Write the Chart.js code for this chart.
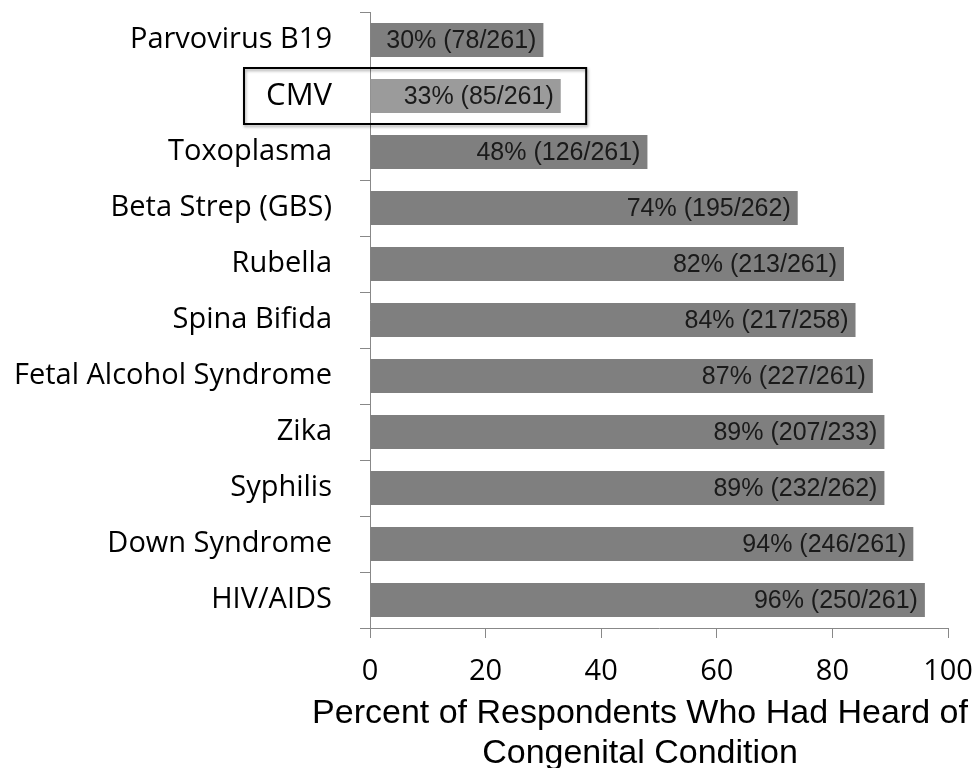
<!DOCTYPE html>
<html>
<head>
<meta charset="utf-8">
<script src="https://cdn.jsdelivr.net/npm/chart.js@4/dist/chart.umd.min.js"></script>
<style>
  html, body { margin: 0; padding: 0; background: #fff; }
  canvas { display: block; }
</style>
</head>
<body>
<canvas id="awarenessChart" width="975" height="768"></canvas>
<script>
/* =========================
   DATA
========================= */
const conditions = [
  "Parvovirus B19", "CMV", "Toxoplasma", "Beta Strep (GBS)", "Rubella",
  "Spina Bifida", "Fetal Alcohol Syndrome", "Zika", "Syphilis",
  "Down Syndrome", "HIV/AIDS"
];
const percentHeard = [30, 33, 48, 74, 82, 84, 87, 89, 89, 94, 96];
const heardCount = [78, 85, 126, 195, 213, 217, 227, 207, 232, 246, 250];
const respondents = [261, 261, 261, 262, 261, 258, 261, 233, 262, 261, 261];
const xTicks = [0, 20, 40, 60, 80, 100];
const axisTitle = ["Percent of Respondents Who Had Heard of", "Congenital Condition"];
const highlighted = "CMV";

const valueLabels = percentHeard.map((p, i) =>
  p + "% (" + heardCount[i] + "/" + respondents[i] + ")");

/* =========================
   STYLE
========================= */
const BAR = "#7f7f7f";
const BAR_HI = "#9b9b9b";
const AXIS = "#888888";
const LABEL_FONT = "'Open Sans', sans-serif";
const ARIAL = "'Liberation Sans', Arial, sans-serif";

/* =========================
   PLUGINS
========================= */
// value text inside the end of each bar
const barText = {
  id: "barText",
  afterDatasetsDraw(chart) {
    const ctx = chart.ctx;
    const meta = chart.getDatasetMeta(0);
    ctx.save();
    ctx.font = "25px " + ARIAL;
    ctx.fillStyle = "#1a1a1a";
    ctx.textAlign = "right";
    ctx.textBaseline = "middle";
    meta.data.forEach((bar, i) => {
      ctx.fillText(valueLabels[i], bar.x - 7, bar.y + 1);
    });
    ctx.restore();
  }
};

// box round the highlighted row
const highlightBox = {
  id: "highlightBox",
  afterDraw(chart) {
    const i = conditions.indexOf(highlighted);
    if (i < 0) return;
    const y = chart.scales.y;
    const x = chart.scales.x;
    const half = (y.getPixelForValue(1) - y.getPixelForValue(0)) / 2;
    const cy = y.getPixelForValue(i);
    const left = y.left + 244;
    const right = x.getPixelForValue(percentHeard[i] + 4.4);
    const ctx = chart.ctx;
    ctx.save();
    ctx.shadowColor = "rgba(0,0,0,0.35)";
    ctx.shadowBlur = 3;
    ctx.shadowOffsetX = 1;
    ctx.shadowOffsetY = 2;
    ctx.strokeStyle = "#000";
    ctx.lineWidth = 2;
    ctx.strokeRect(left, cy - half, right - left, half * 2);
    ctx.restore();
  }
};

// two line x axis title
const xTitle = {
  id: "xTitle",
  afterDraw(chart) {
    const ctx = chart.ctx;
    const area = chart.chartArea;
    const cx = (area.left + area.right) / 2 - 19;
    ctx.save();
    ctx.font = "34px " + ARIAL;
    ctx.fillStyle = "#000";
    ctx.textAlign = "center";
    ctx.textBaseline = "alphabetic";
    ctx.fillText(axisTitle[0], cx, area.bottom + 95);
    ctx.fillText(axisTitle[1], cx, area.bottom + 135);
    ctx.restore();
  }
};

/* =========================
   CHART
========================= */
const awarenessChart = new Chart(
  document.getElementById("awarenessChart"),
  {
    type: "bar",
    data: {
      labels: conditions,
      datasets: [{
        data: percentHeard,
        backgroundColor: conditions.map(c => c === highlighted ? BAR_HI : BAR),
        borderWidth: 0,
        barPercentage: 0.61,
        categoryPercentage: 1
      }]
    },
    options: {
      indexAxis: "y",
      responsive: false,
      animation: false,
      layout: { padding: { top: 12, right: 27, left: 0, bottom: 0 } },
      plugins: {
        legend: { display: false },
        tooltip: { enabled: false }
      },
      scales: {
        x: {
          min: 0,
          max: 100,
          afterBuildTicks: scale => {
            scale.ticks = xTicks.map(v => ({ value: v }));
          },
          afterFit: scale => {
            scale.height = 140;
            scale.paddingLeft = 0;
            scale.paddingRight = 0;
          },
          border: { color: AXIS, width: 1 },
          grid: {
            drawOnChartArea: false,
            drawTicks: true,
            tickLength: 10,
            color: AXIS
          },
          ticks: {
            color: "#000",
            padding: 16,
            font: { family: LABEL_FONT, size: 29 }
          }
        },
        y: {
          afterFit: scale => {
            scale.width = 370;
            scale.paddingTop = 0;
            scale.paddingBottom = 0;
          },
          border: { color: AXIS, width: 1 },
          grid: {
            offset: true,
            drawOnChartArea: false,
            tickLength: 10,
            color: AXIS
          },
          ticks: {
            color: "#000",
            padding: 28,
            font: ctx => ({
              family: LABEL_FONT,
              size: conditions[ctx.index] === highlighted ? 31 : 29
            })
          }
        }
      }
    },
    plugins: [barText, highlightBox, xTitle]
  }
);
</script>
</body>
</html>
